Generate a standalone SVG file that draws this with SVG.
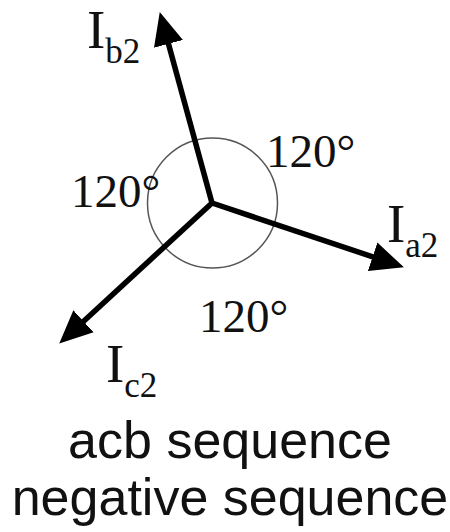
<svg xmlns="http://www.w3.org/2000/svg" width="450" height="532" viewBox="0 0 450 532">
<style>
.ser{font-family:"Liberation Serif","Times New Roman",serif;fill:#111}
.big{font-size:55px}
.sub{font-size:35px}
.deg{font-size:47px}
.cap{font-family:"Liberation Sans",Arial,sans-serif;font-size:52px;fill:#111;text-anchor:middle}
.vec{stroke:#000;stroke-width:5.5;fill:none;marker-end:url(#ah)}
</style>
<defs>
<marker id="ah" markerUnits="userSpaceOnUse" markerWidth="34" markerHeight="32" refX="12" refY="15" orient="auto" viewBox="0 0 34 30">
<path d="M0,0 L33,15 L0,30 z" fill="#000"/>
</marker>
</defs>
<rect width="450" height="532" fill="#fff"/>
<g id="circle">
<circle cx="212.5" cy="203" r="65" fill="none" stroke="#555" stroke-width="1.5"/>
</g>
<g id="connectors">
<line class="vec" x1="212" y1="203" x2="165.3" y2="32.3"/>
<line class="vec" x1="212" y1="203" x2="384" y2="260.6"/>
<line class="vec" x1="212" y1="203" x2="74.7" y2="329.4"/>
</g>
<g id="Ib2"><text class="ser big" x="87" y="48">I<tspan class="sub" dy="15">b2</tspan></text></g>
<g id="Ia2"><text class="ser big" x="387" y="242">I<tspan class="sub" dy="15">a2</tspan></text></g>
<g id="Ic2"><text class="ser big" x="106" y="382">I<tspan class="sub" dy="15">c2</tspan></text></g>
<g id="angle-left"><text class="ser deg" x="71" y="207">120°</text></g>
<g id="angle-right"><text class="ser deg" x="266" y="167">120°</text></g>
<g id="angle-bottom"><text class="ser deg" x="199" y="332">120°</text></g>
<g id="caption">
<text class="cap" x="230" y="458">acb sequence</text>
<text class="cap" x="230" y="515">negative sequence</text>
</g>
</svg>
